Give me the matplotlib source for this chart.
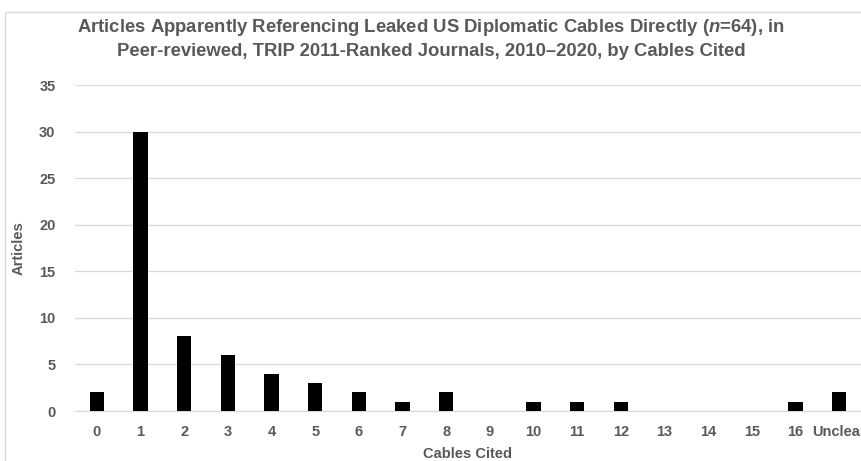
import matplotlib
matplotlib.use("Agg")
import matplotlib.pyplot as plt
from matplotlib.patches import Rectangle

categories = ["0", "1", "2", "3", "4", "5", "6", "7", "8", "9", "10",
              "11", "12", "13", "14", "15", "16", "Unclear"]
articles = [2, 30, 8, 6, 4, 3, 2, 1, 2, 0, 1, 1, 1, 0, 0, 0, 1, 2]
yticks = [0, 5, 10, 15, 20, 25, 30, 35]

grey = "#595959"
plt.rcParams["font.family"] = ["Liberation Sans", "DejaVu Sans"]
plt.rcParams["font.weight"] = "bold"
plt.rcParams["mathtext.fontset"] = "custom"
plt.rcParams["mathtext.it"] = "Liberation Sans:italic:bold"

fig = plt.figure(figsize=(8.62, 4.61), dpi=100)
fig.patches.append(Rectangle((5/862, -0.05), 1.0, 1 - 12/461 + 0.05,
                             transform=fig.transFigure, fill=False,
                             edgecolor="#d9d9d9", linewidth=1.0))

ax = fig.add_axes([75/862, 1 - 411/461, 786/862, (411 - 85)/461])
x = range(len(categories))
ax.bar(x, articles, width=0.33, color="black", zorder=3)

ax.set_xlim(-0.5, len(categories) - 0.5)
ax.set_ylim(0, 35)
ax.set_yticks(yticks)
ax.set_xticks(list(x))
ax.set_xticklabels(categories)
ax.grid(axis="y", color="#d9d9d9", linewidth=0.9, zorder=0)
for s in ["top", "right", "left"]:
    ax.spines[s].set_visible(False)
ax.spines["bottom"].set_color("#d9d9d9")
ax.tick_params(length=0, labelsize=10.5, labelcolor=grey, pad=10)
ax.tick_params(axis="y", pad=14)

ax.set_ylabel("Articles", fontsize=10.5, color=grey, fontweight="bold", labelpad=10)
ax.set_xlabel("Cables Cited", fontsize=10.5, color=grey, fontweight="bold", labelpad=6)

fig.text(0.5, 1 - 27/461, "Articles Apparently Referencing Leaked US Diplomatic Cables Directly ($n$=64), in",
         ha="center", va="center", fontsize=13.3, color=grey, fontweight="bold")
fig.text(0.5, 1 - 52/461, "Peer-reviewed, TRIP 2011-Ranked Journals, 2010\u20132020, by Cables Cited",
         ha="center", va="center", fontsize=13.3, color=grey, fontweight="bold")

fig.savefig("out.png", dpi=100)
